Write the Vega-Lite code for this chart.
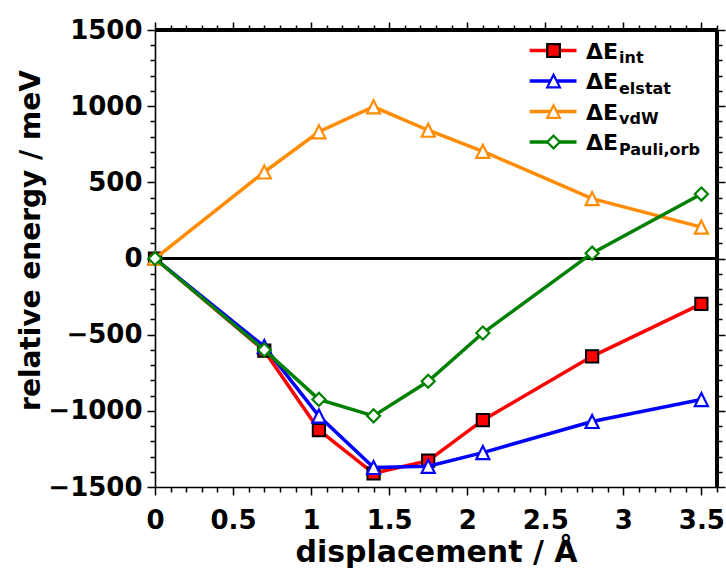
{
  "$schema": "https://vega.github.io/schema/vega-lite/v6.json",
  "width": 562,
  "height": 457,
  "autosize": "none",
  "padding": {"left": 155, "top": 30, "right": 9, "bottom": 83},
  "background": "white",
  "datasets": {
    "energies": [
      {"d": 0, "series": "int", "E": 0},
      {"d": 0.7, "series": "int", "E": -605},
      {"d": 1.05, "series": "int", "E": -1126},
      {"d": 1.4, "series": "int", "E": -1410},
      {"d": 1.75, "series": "int", "E": -1327},
      {"d": 2.1, "series": "int", "E": -1061},
      {"d": 2.8, "series": "int", "E": -642},
      {"d": 3.5, "series": "int", "E": -298},
      {"d": 0, "series": "elstat", "E": 0},
      {"d": 0.7, "series": "elstat", "E": -578},
      {"d": 1.05, "series": "elstat", "E": -1034},
      {"d": 1.4, "series": "elstat", "E": -1372},
      {"d": 1.75, "series": "elstat", "E": -1364},
      {"d": 2.1, "series": "elstat", "E": -1274},
      {"d": 2.8, "series": "elstat", "E": -1070},
      {"d": 3.5, "series": "elstat", "E": -926},
      {"d": 0, "series": "vdW", "E": 0},
      {"d": 0.7, "series": "vdW", "E": 568},
      {"d": 1.05, "series": "vdW", "E": 832},
      {"d": 1.4, "series": "vdW", "E": 996},
      {"d": 1.75, "series": "vdW", "E": 842},
      {"d": 2.1, "series": "vdW", "E": 704},
      {"d": 2.8, "series": "vdW", "E": 393},
      {"d": 3.5, "series": "vdW", "E": 206},
      {"d": 0, "series": "Pauli,orb", "E": 0},
      {"d": 0.7, "series": "Pauli,orb", "E": -600},
      {"d": 1.05, "series": "Pauli,orb", "E": -925},
      {"d": 1.4, "series": "Pauli,orb", "E": -1033},
      {"d": 1.75, "series": "Pauli,orb", "E": -806},
      {"d": 2.1, "series": "Pauli,orb", "E": -489},
      {"d": 2.8, "series": "Pauli,orb", "E": 35},
      {"d": 3.5, "series": "Pauli,orb", "E": 423}
    ],
    "legend": [
      {"series": "int"},
      {"series": "elstat"},
      {"series": "vdW"},
      {"series": "Pauli,orb"}
    ]
  },
  "config": {
    "view": {"stroke": null},
    "legend": {"disable": true},
    "axis": {
      "grid": false,
      "domainColor": "black",
      "domainWidth": 1.6,
      "tickColor": "black",
      "tickWidth": 1.5,
      "labelFont": "DejaVu Sans",
      "labelFontWeight": "bold",
      "labelFontSize": 26,
      "labelColor": "black",
      "labelOverlap": false,
      "labelFlush": false,
      "labelBound": false,
      "titleFont": "DejaVu Sans",
      "titleFontWeight": "bold",
      "titleColor": "black"
    },
    "text": {"font": "DejaVu Sans", "fontWeight": "bold", "color": "black"}
  },
  "layer": [
    {
      "data": {"name": "energies"},
      "mark": {"type": "point", "opacity": 0},
      "encoding": {
        "x": {
          "field": "d", "type": "quantitative",
          "scale": {"domain": [0, 3.6], "nice": false, "zero": false},
          "axis": {
            "orient": "bottom",
            "title": "displacement / Å",
            "titleFontSize": 30,
            "titlePadding": 4,
            "values": [0, 0.1, 0.2, 0.3, 0.4, 0.5, 0.6, 0.7, 0.8, 0.9, 1, 1.1, 1.2, 1.3, 1.4, 1.5, 1.6, 1.7, 1.8, 1.9, 2, 2.1, 2.2, 2.3, 2.4, 2.5, 2.6, 2.7, 2.8, 2.9, 3, 3.1, 3.2, 3.3, 3.4, 3.5, 3.6],
            "labelExpr": "round(datum.value * 10) % 5 == 0 ? format(datum.value, '~g') : ''",
            "tickSize": {"condition": {"test": "round(datum.value * 10) % 5 == 0", "value": 8}, "value": 5},
            "labelPadding": 12
          }
        },
        "y": {
          "field": "E", "type": "quantitative",
          "scale": {"domain": [-1500, 1500], "nice": false, "zero": false},
          "axis": {
            "orient": "left",
            "title": "relative energy / meV",
            "titleFontSize": 28,
            "titleAngle": -90,
            "titleBaseline": "alphabetic",
            "titleX": -116,
            "titleY": 210,
            "values": [-1500, -1400, -1300, -1200, -1100, -1000, -900, -800, -700, -600, -500, -400, -300, -200, -100, 0, 100, 200, 300, 400, 500, 600, 700, 800, 900, 1000, 1100, 1200, 1300, 1400, 1500],
            "labelExpr": "datum.value % 500 == 0 ? format(datum.value, 'd') : ''",
            "tickSize": {"condition": {"test": "datum.value % 500 == 0", "value": 8}, "value": 5},
            "labelPadding": 5
          }
        }
      }
    },
    {
      "data": {"name": "energies"},
      "mark": {"type": "point", "opacity": 0},
      "encoding": {
        "x": {
          "field": "d", "type": "quantitative",
          "axis": {
            "orient": "top",
            "title": "",
            "labels": false,
            "values": [0, 0.1, 0.2, 0.3, 0.4, 0.5, 0.6, 0.7, 0.8, 0.9, 1, 1.1, 1.2, 1.3, 1.4, 1.5, 1.6, 1.7, 1.8, 1.9, 2, 2.1, 2.2, 2.3, 2.4, 2.5, 2.6, 2.7, 2.8, 2.9, 3, 3.1, 3.2, 3.3, 3.4, 3.5, 3.6],
            "tickSize": {"condition": {"test": "round(datum.value * 10) % 5 == 0", "value": 8}, "value": 5}
          }
        },
        "y": {
          "field": "E", "type": "quantitative",
          "scale": {"domain": [-1500, 1500], "nice": false, "zero": false},
          "axis": {
            "orient": "right",
            "title": "",
            "labels": false,
            "values": [-1500, -1400, -1300, -1200, -1100, -1000, -900, -800, -700, -600, -500, -400, -300, -200, -100, 0, 100, 200, 300, 400, 500, 600, 700, 800, 900, 1000, 1100, 1200, 1300, 1400, 1500],
            "tickSize": {"condition": {"test": "datum.value % 500 == 0", "value": 8}, "value": 5}
          }
        }
      }
    },
    {
      "data": {"name": "energies"},
      "layer": [
        {
          "mark": {"type": "rule", "color": "black", "strokeWidth": 1.6},
          "encoding": {"y": {"datum": 0, "type": "quantitative", "scale": {"domain": [-1500, 1500], "nice": false, "zero": false}, "axis": null}}
        },
        {
          "mark": {"type": "rule", "color": "black", "strokeWidth": 3.2},
          "encoding": {"y": {"datum": 1500, "type": "quantitative", "axis": null}}
        },
        {
          "mark": {"type": "rule", "color": "black", "strokeWidth": 3.2},
          "encoding": {"x": {"datum": 3.6, "type": "quantitative", "axis": null}}
        },
        {
          "transform": [{"filter": "datum.series == 'int'"}],
          "encoding": {
            "x": {"field": "d", "type": "quantitative", "axis": null},
            "y": {"field": "E", "type": "quantitative", "axis": null}
          },
          "layer": [
            {
              "mark": {"type": "line", "strokeWidth": 3.5},
              "encoding": {"color": {"field": "series", "type": "nominal", "scale": {"domain": ["int", "elstat", "vdW", "Pauli,orb"], "range": ["#ff0000", "#0000ff", "#ff8c00", "#008000"]}}}
            },
            {
              "mark": {"type": "point", "filled": true, "opacity": 1, "strokeWidth": 2, "size": 150},
              "encoding": {
                "fill": {"field": "series", "type": "nominal", "scale": {"domain": ["int", "elstat", "vdW", "Pauli,orb"], "range": ["#ff0000", "#ffffff", "#ffffff", "#ffffff"]}},
                "stroke": {"field": "series", "type": "nominal", "scale": {"domain": ["int", "elstat", "vdW", "Pauli,orb"], "range": ["#000000", "#0000ff", "#ff8c00", "#008000"]}},
                "shape": {"field": "series", "type": "nominal", "scale": {"domain": ["int", "elstat", "vdW", "Pauli,orb"], "range": ["square", "M0,-1L-1,1L1,1Z", "M0,-1L-1,1L1,1Z", "M0,-1L1,0L0,1L-1,0Z"]}}
              }
            }
          ]
        },
        {
          "transform": [{"filter": "datum.series == 'elstat'"}],
          "encoding": {
            "x": {"field": "d", "type": "quantitative", "axis": null},
            "y": {"field": "E", "type": "quantitative", "axis": null}
          },
          "layer": [
            {
              "mark": {"type": "line", "strokeWidth": 3.5},
              "encoding": {"color": {"field": "series", "type": "nominal"}}
            },
            {
              "mark": {"type": "point", "filled": true, "opacity": 1, "strokeWidth": 2.2, "size": 170},
              "encoding": {
                "fill": {"field": "series", "type": "nominal"},
                "stroke": {"field": "series", "type": "nominal"},
                "shape": {"field": "series", "type": "nominal"}
              }
            }
          ]
        },
        {
          "transform": [{"filter": "datum.series == 'vdW'"}],
          "encoding": {
            "x": {"field": "d", "type": "quantitative", "axis": null},
            "y": {"field": "E", "type": "quantitative", "axis": null}
          },
          "layer": [
            {
              "mark": {"type": "line", "strokeWidth": 3.5},
              "encoding": {"color": {"field": "series", "type": "nominal"}}
            },
            {
              "mark": {"type": "point", "filled": true, "opacity": 1, "strokeWidth": 2.2, "size": 170},
              "encoding": {
                "fill": {"field": "series", "type": "nominal"},
                "stroke": {"field": "series", "type": "nominal"},
                "shape": {"field": "series", "type": "nominal"}
              }
            }
          ]
        },
        {
          "transform": [{"filter": "datum.series == 'Pauli,orb'"}],
          "encoding": {
            "x": {"field": "d", "type": "quantitative", "axis": null},
            "y": {"field": "E", "type": "quantitative", "axis": null}
          },
          "layer": [
            {
              "mark": {"type": "line", "strokeWidth": 3.5},
              "encoding": {"color": {"field": "series", "type": "nominal"}}
            },
            {
              "mark": {"type": "point", "filled": true, "opacity": 1, "strokeWidth": 2.2, "size": 170},
              "encoding": {
                "fill": {"field": "series", "type": "nominal"},
                "stroke": {"field": "series", "type": "nominal"},
                "shape": {"field": "series", "type": "nominal"}
              }
            }
          ]
        }
      ]
    },
    {
      "data": {"name": "legend"},
      "encoding": {
        "y": {
          "field": "series", "type": "nominal",
          "scale": {"type": "point", "domain": ["int", "elstat", "vdW", "Pauli,orb"], "range": [20.5, 112], "padding": 0},
          "axis": null
        }
      },
      "layer": [
        {
          "mark": {"type": "rule", "strokeWidth": 3.5},
          "encoding": {
            "x": {"datum": 2.40, "type": "quantitative", "axis": null},
            "x2": {"datum": 2.70},
            "color": {"field": "series", "type": "nominal", "scale": {"domain": ["int", "elstat", "vdW", "Pauli,orb"], "range": ["#ff0000", "#0000ff", "#ff8c00", "#008000"]}}
          }
        },
        {
          "mark": {"type": "point", "filled": true, "opacity": 1, "strokeWidth": 2.2, "size": 160},
          "encoding": {
            "x": {"datum": 2.553, "type": "quantitative", "axis": null},
            "fill": {"field": "series", "type": "nominal", "scale": {"domain": ["int", "elstat", "vdW", "Pauli,orb"], "range": ["#ff0000", "#ffffff", "#ffffff", "#ffffff"]}},
            "stroke": {"field": "series", "type": "nominal", "scale": {"domain": ["int", "elstat", "vdW", "Pauli,orb"], "range": ["#000000", "#0000ff", "#ff8c00", "#008000"]}},
            "shape": {"field": "series", "type": "nominal", "scale": {"domain": ["int", "elstat", "vdW", "Pauli,orb"], "range": ["square", "M0,-1L-1,1L1,1Z", "M0,-1L-1,1L1,1Z", "M0,-1L1,0L0,1L-1,0Z"]}}
          }
        },
        {
          "mark": {"type": "text", "align": "left", "baseline": "alphabetic", "dy": 8, "fontSize": 22},
          "encoding": {
            "x": {"datum": 2.761, "type": "quantitative", "axis": null},
            "text": {"value": "ΔE"}
          }
        },
        {
          "mark": {"type": "text", "align": "left", "baseline": "alphabetic", "dx": 33, "dy": 12.5, "fontSize": 16},
          "encoding": {
            "x": {"datum": 2.761, "type": "quantitative", "axis": null},
            "text": {"field": "series", "type": "nominal"}
          }
        }
      ]
    }
  ],
  "resolve": {"scale": {"y": "independent"}, "axis": {"x": "independent", "y": "independent"}}
}
